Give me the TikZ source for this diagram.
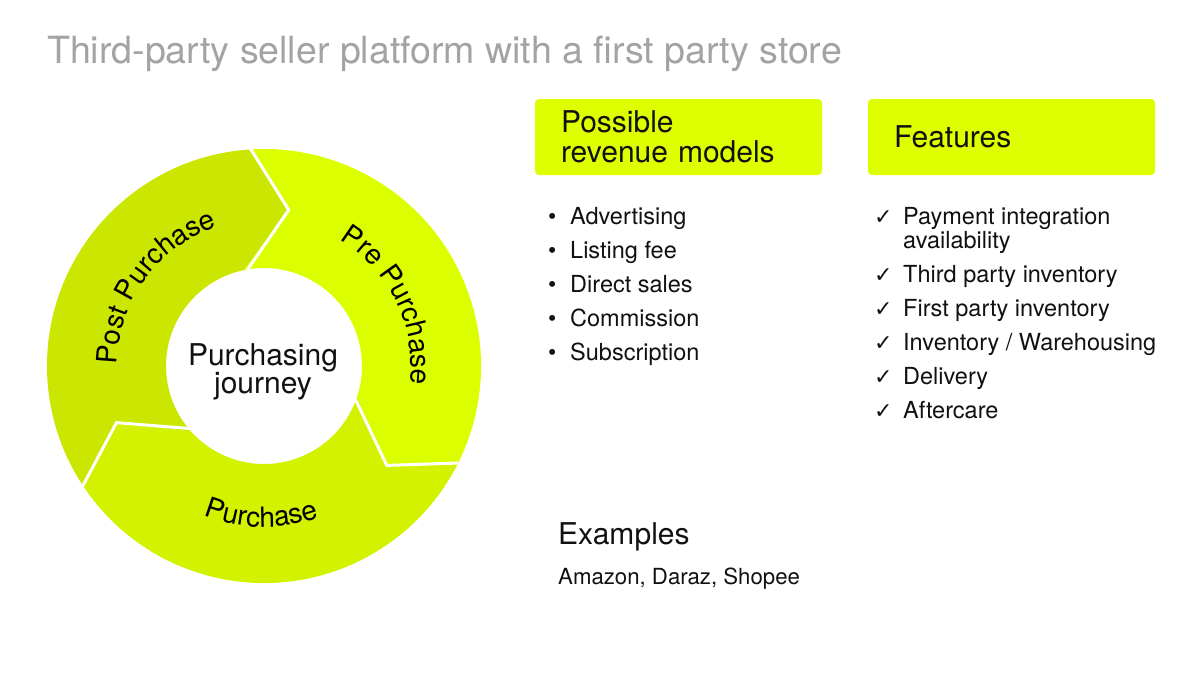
\documentclass[tikz,border=0pt]{standalone}
\usepackage{fontspec}
\setmainfont{TeX Gyre Heros}
\newfontfamily\symfont{DejaVu Sans}
\usetikzlibrary{decorations.text}
\definecolor{prefill}{HTML}{DCFF00}
\definecolor{purfill}{HTML}{D3F200}
\definecolor{postfill}{HTML}{CBE600}
\definecolor{hdrfill}{HTML}{DDFF00}
\definecolor{ttlgray}{HTML}{A3A3A3}
\definecolor{ink}{HTML}{111111}
\newcommand\ringfont{\fontsize{28}{28}\selectfont}
\tikzset{
  ttl/.style     = {anchor=base west, inner sep=0pt, text=ttlgray, font=\fontsize{37.5}{40}\selectfont},
  hdrblk/.style  = {rectangle, rounded corners=4pt, fill=hdrfill, minimum width=287pt, minimum height=76pt,
                    text width=235pt, align=left, inner sep=0pt, text=ink, font=\fontsize{30}{30}\selectfont},
  item/.style    = {anchor=base west, inner sep=0pt, text=ink, font=\fontsize{23.5}{24}\selectfont},
  bulletmk/.style= {anchor=base west, inner sep=0pt, text=ink, font=\fontsize{23.5}{24}\selectfont},
  checkmk/.style = {anchor=base west, inner sep=0pt, text=ink, font=\symfont\fontsize{22}{22}\selectfont},
  exttl/.style   = {anchor=base west, inner sep=0pt, text=ink, font=\fontsize{30}{30}\selectfont},
  hub/.style     = {align=center, inner sep=0pt, text=ink, font=\fontsize{30}{28}\selectfont},
  gap/.style     = {draw=white, line width=3pt},
  ringlbl/.style = {decorate, decoration={text along path, text align=center, text={|\ringfont|#1}}},
}

\begin{document}
\begin{tikzpicture}[x=1pt, y=1pt]
  \fill[white] (0,0) rectangle (1200,-675);
  \useasboundingbox (0,0) rectangle (1200,-675);
  \node[ttl] (title) at (47,-63) {Third-party seller platform with a first party store};

  \begin{scope}[shift={(264,-366)}]
    \foreach \b/\col in {102/prefill, -18/purfill, -138/postfill}{
      \fill[\col] ({\b-8}:217) -- ({\b-21}:158) -- (\b:98)
        arc[start angle=\b, end angle=\b-120, radius=98pt]
        -- ({\b-141}:158) -- ({\b-128}:217)
        arc[start angle=\b-128, end angle=\b-8, radius=217pt] -- cycle;
    }
    \foreach \b in {102, -18, -138}{\draw[gap] ({\b-8}:221) -- ({\b-21}:158) -- (\b:94);}
    \path[ringlbl=Post Purchase] (204:147) arc[start angle=204, end angle=84, radius=147pt];
    \path[ringlbl=Pre Purchase] (86:147) arc[start angle=86, end angle=-34, radius=147pt];
    \path[ringlbl=Purchase] (-151:161) arc[start angle=-151, end angle=-31, radius=161pt];
    \node[hub] (journey) at (-1,-6) {Purchasing\\journey};
  \end{scope}

  \node[hdrblk] (hdrrev) at (678.5,-137) {Possible\\revenue models};
  \node[hdrblk] (hdrfeat) at (1011.5,-137) {Features};

  \foreach \txt [count=\i] in {Advertising, Listing fee, Direct sales, Commission, Subscription}{
    \node[bulletmk] (bul\i) at (548,{-224-34*(\i-1)}) {\textbullet};
    \node[item] (rev\i) at (570,{-224-34*(\i-1)}) {\txt};
  }

  \foreach \y/\txt [count=\i] in {224/Payment integration, 282/Third party inventory, 316/First party inventory,
                                  350/{Inventory / Warehousing}, 384/Delivery, 418/Aftercare}{
    \node[checkmk] (chk\i) at (874,-\y) {✓};
    \node[item] (feat\i) at (903,-\y) {\txt};
  }
  \node[item] (feat1b) at (903,-248) {availability};

  \node[exttl] (exhd) at (558,-544) {Examples};
  \node[item, font=\fontsize{22.2}{23}\selectfont] (exlist) at (558,-584) {Amazon, Daraz, Shopee};
\end{tikzpicture}
\end{document}
